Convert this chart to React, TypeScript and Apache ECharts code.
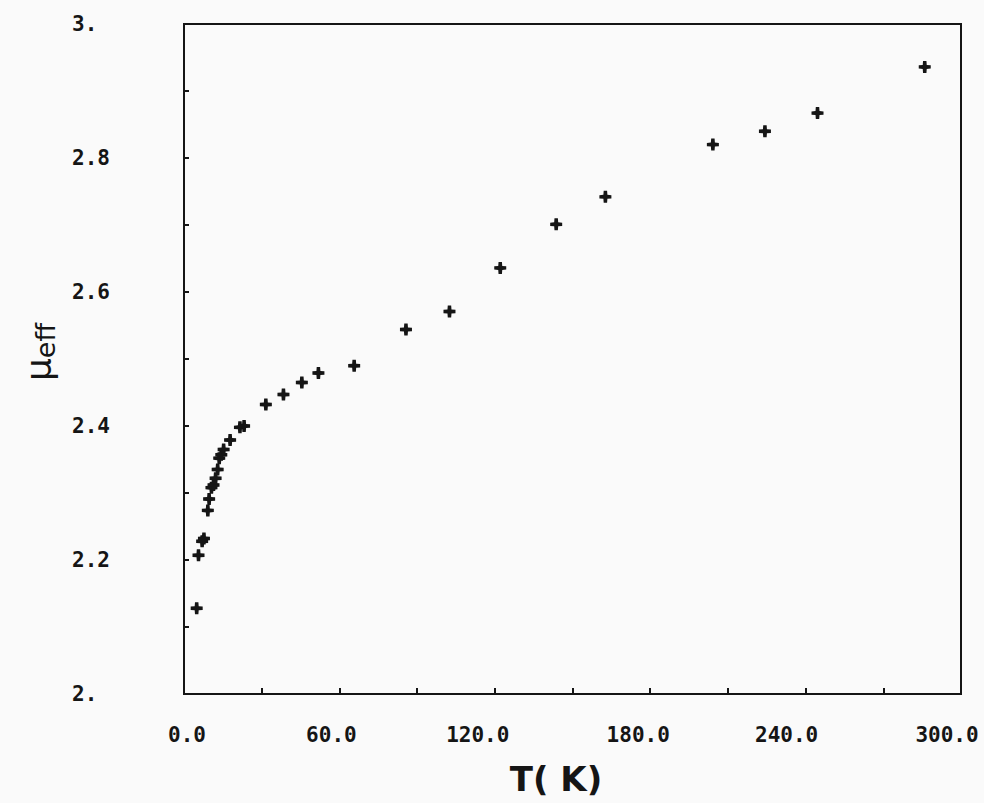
import React, { useEffect, useRef } from "react";
import * as echarts from "echarts";

// Temperature (K) and effective magnetic moment values
const temperatureK: number[] = [
  4.9, 5.6, 7.0, 7.7, 9.2, 9.7, 10.6, 11.4, 12.2, 13.0, 13.6, 14.4, 15.3, 17.8,
  21.6, 23.2, 31.6, 38.4, 45.5, 51.9, 65.7, 85.7, 102.5, 122.1, 143.7, 162.7,
  204.2, 224.3, 244.6, 286.0,
];
const muEff: number[] = [
  2.128, 2.207, 2.228, 2.232, 2.274, 2.291, 2.308, 2.312, 2.322, 2.335, 2.352,
  2.357, 2.365, 2.379, 2.398, 2.4, 2.432, 2.447, 2.465, 2.479, 2.49, 2.544,
  2.571, 2.636, 2.701, 2.742, 2.82, 2.84, 2.867, 2.936,
];

const xTickValues: number[] = [0, 60, 120, 180, 240, 300];
const xTickLabels: string[] = ["0.0", "60.0", "120.0", "180.0", "240.0", "300.0"];
const yTickValues: number[] = [2.0, 2.2, 2.4, 2.6, 2.8, 3.0];
const yTickLabels: string[] = ["2.", "2.2", "2.4", "2.6", "2.8", "3."];

const xTitle = "T( K)";
const yTitleMain = "μ";
const yTitleSub = "eff";

// style: horizontal nudge (px) of each x tick label, as placed by the original plotter
const X_LABEL_NUDGE = [3, -8, -17, -12, -19, -14];

const crossSymbol =
  "path://M4.3 0 H7.7 L8 4 L12 4.3 V7.7 L8 8 L7.7 12 H4.3 L4 8 L0 7.7 V4.3 L4 4 Z";

const INK = "#151515";
const LABEL_FONT = "'DejaVu Sans Mono', monospace";

function indexOf(values: number[], v: number, scale: number): number {
  return values.findIndex((t) => Math.round(t * scale) === Math.round(v * scale));
}

export default function App() {
  const ref = useRef<HTMLDivElement>(null);

  useEffect(() => {
    if (!ref.current) return;
    const chart = echarts.init(ref.current, undefined, { renderer: "svg" });
    const data = temperatureK.map((t, i) => [t, muEff[i]]);

    const xRich: Record<string, any> = {};
    X_LABEL_NUDGE.forEach((n, i) => {
      xRich["l" + i] = {
        fontFamily: LABEL_FONT,
        fontWeight: "bold",
        fontSize: 21,
        color: INK,
        padding: n >= 0 ? [0, 0, 0, 2 * n] : [0, -2 * n, 0, 0],
      };
    });

    chart.setOption({
      animation: false,
      backgroundColor: "#fafafa",
      grid: {
        left: 184,
        right: 23,
        top: 24,
        bottom: 109,
        show: true,
        borderColor: INK,
        borderWidth: 2,
        backgroundColor: "transparent",
      },
      xAxis: {
        type: "value",
        min: 0,
        max: 300,
        interval: 30,
        axisLine: { show: true, lineStyle: { color: INK, width: 2 } },
        axisTick: { show: true, inside: true, length: 6, lineStyle: { color: INK, width: 2 } },
        splitLine: { show: false },
        axisLabel: {
          show: true,
          showMinLabel: true,
          showMaxLabel: true,
          margin: 30,
          color: INK,
          fontFamily: LABEL_FONT,
          fontWeight: "bold",
          fontSize: 21,
          rich: xRich,
          formatter: (v: number) => {
            const k = indexOf(xTickValues, v, 1);
            return k >= 0 ? `{l${k}|${xTickLabels[k]}}` : "";
          },
        },
      },
      yAxis: {
        type: "value",
        min: 2,
        max: 3,
        interval: 0.1,
        axisLine: { show: true, lineStyle: { color: INK, width: 2 } },
        axisTick: { show: true, inside: true, length: 5, lineStyle: { color: INK, width: 2 } },
        splitLine: { show: false },
        axisLabel: {
          show: true,
          showMinLabel: true,
          showMaxLabel: true,
          align: "left",
          margin: 112,
          color: INK,
          fontFamily: LABEL_FONT,
          fontWeight: "bold",
          fontSize: 21,
          formatter: (v: number) => {
            const k = indexOf(yTickValues, v, 10);
            return k >= 0 ? yTickLabels[k] : "";
          },
        },
      },
      series: [
        {
          type: "scatter",
          data,
          symbol: crossSymbol,
          symbolSize: 12,
          itemStyle: { color: INK, opacity: 1 },
        },
      ],
      graphic: [
        {
          type: "text",
          x: 556,
          y: 779,
          style: {
            text: xTitle,
            fill: INK,
            font: "bold 34px 'DejaVu Sans', sans-serif",
            textAlign: "center",
            textVerticalAlign: "middle",
          },
        },
        {
          type: "text",
          x: 38,
          y: 352,
          rotation: Math.PI / 2,
          style: {
            text: `{mu|${yTitleMain}}{sub|${yTitleSub}}`,
            fill: INK,
            textAlign: "center",
            textVerticalAlign: "middle",
            rich: {
              mu: { fontSize: 36, fontFamily: "'DejaVu Sans', sans-serif", fill: INK },
              sub: { fontSize: 27, fontFamily: "'DejaVu Sans', sans-serif", fill: INK, padding: [14, 0, 0, 0] },
            },
          },
        },
      ],
    });
    return () => chart.dispose();
  }, []);

  return (
    <div
      ref={ref}
      style={{ position: "fixed", left: 0, top: 0, width: 984, height: 803, background: "#fafafa" }}
    />
  );
}
